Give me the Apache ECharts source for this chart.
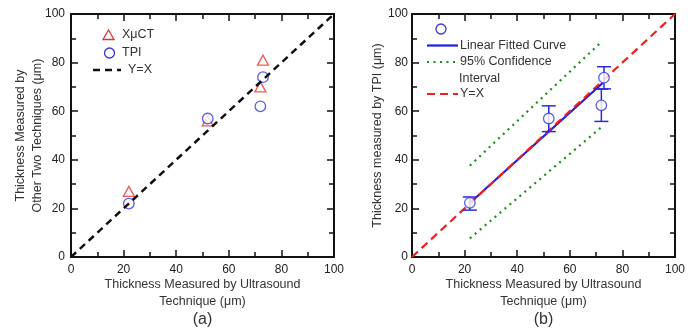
<!DOCTYPE html>
<html><head><meta charset="utf-8">
<script src="https://cdn.jsdelivr.net/npm/echarts@6/dist/echarts.min.js"></script>
<style>html,body{margin:0;padding:0;background:#fff}#c{width:699px;height:328px}</style>
</head><body><div id="c"></div>
<script>
// ---- data ----
const axisTicks = [0, 20, 40, 60, 80, 100];
// panel (a)
const xuctX = [22, 52, 72, 73];
const xuctY = [27, 56, 70, 81];
const tpiAX = [22, 52, 72, 73];
const tpiAY = [22, 57, 62, 74];
const identX = [0, 100];
const identY = [0, 100];
// panel (b)
const tpiBX = [22, 52, 72, 73];
const tpiBY = [22.3, 57, 62.4, 73.8];
const errLow = [19.3, 51.6, 55.8, 69.2];
const errHigh = [24.7, 62.2, 69.1, 78.3];
const fitX = [22, 72.5];
const fitY = [22.2, 71.6];
const ciUpperX = [22, 72];
const ciUpperY = [37.6, 88.5];
const ciLowerX = [22, 72];
const ciLowerY = [7.7, 53.4];

const zip = (a, b) => a.map((v, i) => [v, b[i]]);

const FONT = 'Liberation Sans, Arial, sans-serif';
const RED = '#e8312e', BLUE = '#3434e6', GREEN = '#1a8c1a';

function mainAxis(gridIndex, pos, labels, name, nameGap, labelMargin) {
  return {
    type: 'value', gridIndex, position: pos, min: 0, max: 100, interval: 20,
    axisLine: { show: true, onZero: false, lineStyle: { color: '#111', width: 2 } },
    axisTick: { show: true, inside: true, length: 7, lineStyle: { color: '#111', width: 1.5 } },
    minorTick: { show: true, splitNumber: 2, length: 5, lineStyle: { color: '#111', width: 1.5 } },
    splitLine: { show: false },
    axisLabel: { show: labels, color: '#222', fontSize: 12, fontFamily: FONT, margin: labelMargin || 6 },
    name: name || '', nameLocation: 'middle', nameGap: nameGap || 0, nameMoveOverlap: false,
    nameTextStyle: { color: '#333', fontSize: 12.5, fontFamily: FONT, lineHeight: 17 }
  };
}

const grids = [
  { left: 71, top: 14, width: 263, height: 243 },
  { left: 412, top: 14, width: 263, height: 243 }
];

const xAxes = [
  mainAxis(0, 'bottom', true, 'Thickness Measured by Ultrasound\nTechnique (μm)', 19, 7),
  mainAxis(0, 'top', false),
  mainAxis(1, 'bottom', true, 'Thickness Measured by Ultrasound\nTechnique (μm)', 19, 7),
  mainAxis(1, 'top', false)
];
const yAxes = [
  mainAxis(0, 'left', true, 'Thickness Measured by\nOther Two Techniques (μm)', 25, 6),
  mainAxis(0, 'right', false),
  mainAxis(1, 'left', true, 'Thickness measured by TPI (μm)', 25.5, 4),
  mainAxis(1, 'right', false)
];

const series = [
  // panel (a)
  { type: 'line', xAxisIndex: 0, yAxisIndex: 0, data: zip(identX, identY), symbol: 'none',
    lineStyle: { color: '#111', width: 2.5, type: [7, 5] }, z: 5, silent: true },
  { type: 'scatter', xAxisIndex: 0, yAxisIndex: 0, data: zip(xuctX, xuctY), symbol: 'triangle', symbolSize: [11, 10],
    itemStyle: { color: 'rgba(0,0,0,0)', borderColor: RED, borderWidth: 1.3 }, z: 3 },
  { type: 'scatter', xAxisIndex: 0, yAxisIndex: 0, data: zip(tpiAX, tpiAY), symbol: 'circle', symbolSize: 10.5,
    itemStyle: { color: '#fff', borderColor: BLUE, borderWidth: 1.3 }, z: 4 },
  // panel (b)
  { type: 'line', xAxisIndex: 2, yAxisIndex: 2, data: zip(ciUpperX, ciUpperY), symbol: 'none',
    lineStyle: { color: GREEN, width: 2.2, type: [2, 4.5] }, z: 2 },
  { type: 'line', xAxisIndex: 2, yAxisIndex: 2, data: zip(ciLowerX, ciLowerY), symbol: 'none',
    lineStyle: { color: GREEN, width: 2.2, type: [2, 4.5] }, z: 2 },
  { type: 'line', xAxisIndex: 2, yAxisIndex: 2, data: zip(fitX, fitY), symbol: 'none',
    lineStyle: { color: '#1c1ce8', width: 2.2 }, z: 3 },
  { type: 'line', xAxisIndex: 2, yAxisIndex: 2, data: zip(identX, identY), symbol: 'none',
    lineStyle: { color: '#ee1f1f', width: 2.2, type: [8, 5] }, z: 4 },
  { type: 'custom', xAxisIndex: 2, yAxisIndex: 2, z: 5,
    data: tpiBX.map((x, i) => [x, errLow[i], errHigh[i]]),
    renderItem: function (params, api) {
      const lo = api.coord([api.value(0), api.value(1)]);
      const hi = api.coord([api.value(0), api.value(2)]);
      const hw = 7;
      const st = { stroke: '#2a2ae6', lineWidth: 1.5 };
      return { type: 'group', children: [
        { type: 'line', shape: { x1: lo[0], y1: lo[1], x2: hi[0], y2: hi[1] }, style: st },
        { type: 'line', shape: { x1: lo[0]-hw, y1: lo[1], x2: lo[0]+hw, y2: lo[1] }, style: st },
        { type: 'line', shape: { x1: hi[0]-hw, y1: hi[1], x2: hi[0]+hw, y2: hi[1] }, style: st }
      ]};
    } },
  { type: 'scatter', xAxisIndex: 2, yAxisIndex: 2, data: zip(tpiBX, tpiBY), symbol: 'circle', symbolSize: 10.5,
    itemStyle: { color: '#fff', borderColor: BLUE, borderWidth: 1.3 }, z: 6 }
];

const txt = (x, y, t, size, align) => ({ type: 'text', x, y,
  style: { text: t, fill: '#333', font: (size || 12.5) + 'px ' + FONT, textAlign: align || 'left', textVerticalAlign: 'middle' } });

const graphic = [
  // legend (a)
  { type: 'polygon', shape: { points: [[108.5, 30], [103, 39.5], [114, 39.5]] }, style: { fill: 'none', stroke: RED, lineWidth: 1.3 } },
  txt(122, 35, 'XμCT'),
  { type: 'circle', shape: { cx: 109.5, cy: 53, r: 5 }, style: { fill: 'none', stroke: BLUE, lineWidth: 1.3 } },
  txt(122, 53, 'TPI'),
  { type: 'line', shape: { x1: 93, y1: 70, x2: 121, y2: 70 }, style: { stroke: '#111', lineWidth: 2.5, lineDash: [7, 5] } },
  txt(128, 70, 'Y=X'),
  txt(202.5, 320, '(a)', 16, 'center'),
  // legend (b)
  { type: 'circle', shape: { cx: 441, cy: 29, r: 5 }, style: { fill: 'none', stroke: BLUE, lineWidth: 1.3 } },
  { type: 'line', shape: { x1: 427, y1: 45.5, x2: 458, y2: 45.5 }, style: { stroke: '#1c1ce8', lineWidth: 2.2 } },
  txt(460, 45.5, 'Linear Fitted Curve'),
  { type: 'line', shape: { x1: 427, y1: 62, x2: 458, y2: 62 }, style: { stroke: GREEN, lineWidth: 2.2, lineDash: [2, 4.5] } },
  txt(460, 62, '95% Confidence'),
  txt(459, 79, 'Interval'),
  { type: 'line', shape: { x1: 427, y1: 94, x2: 458, y2: 94 }, style: { stroke: '#ee1f1f', lineWidth: 2.2, lineDash: [8, 5] } },
  txt(460, 94, 'Y=X'),
  txt(543.5, 320, '(b)', 16, 'center')
];

const chart = echarts.init(document.getElementById('c'), null, { renderer: 'canvas' });
chart.setOption({
  animation: false,
  backgroundColor: '#fff',
  grid: grids, xAxis: xAxes, yAxis: yAxes, series, graphic
});
</script></body></html>
